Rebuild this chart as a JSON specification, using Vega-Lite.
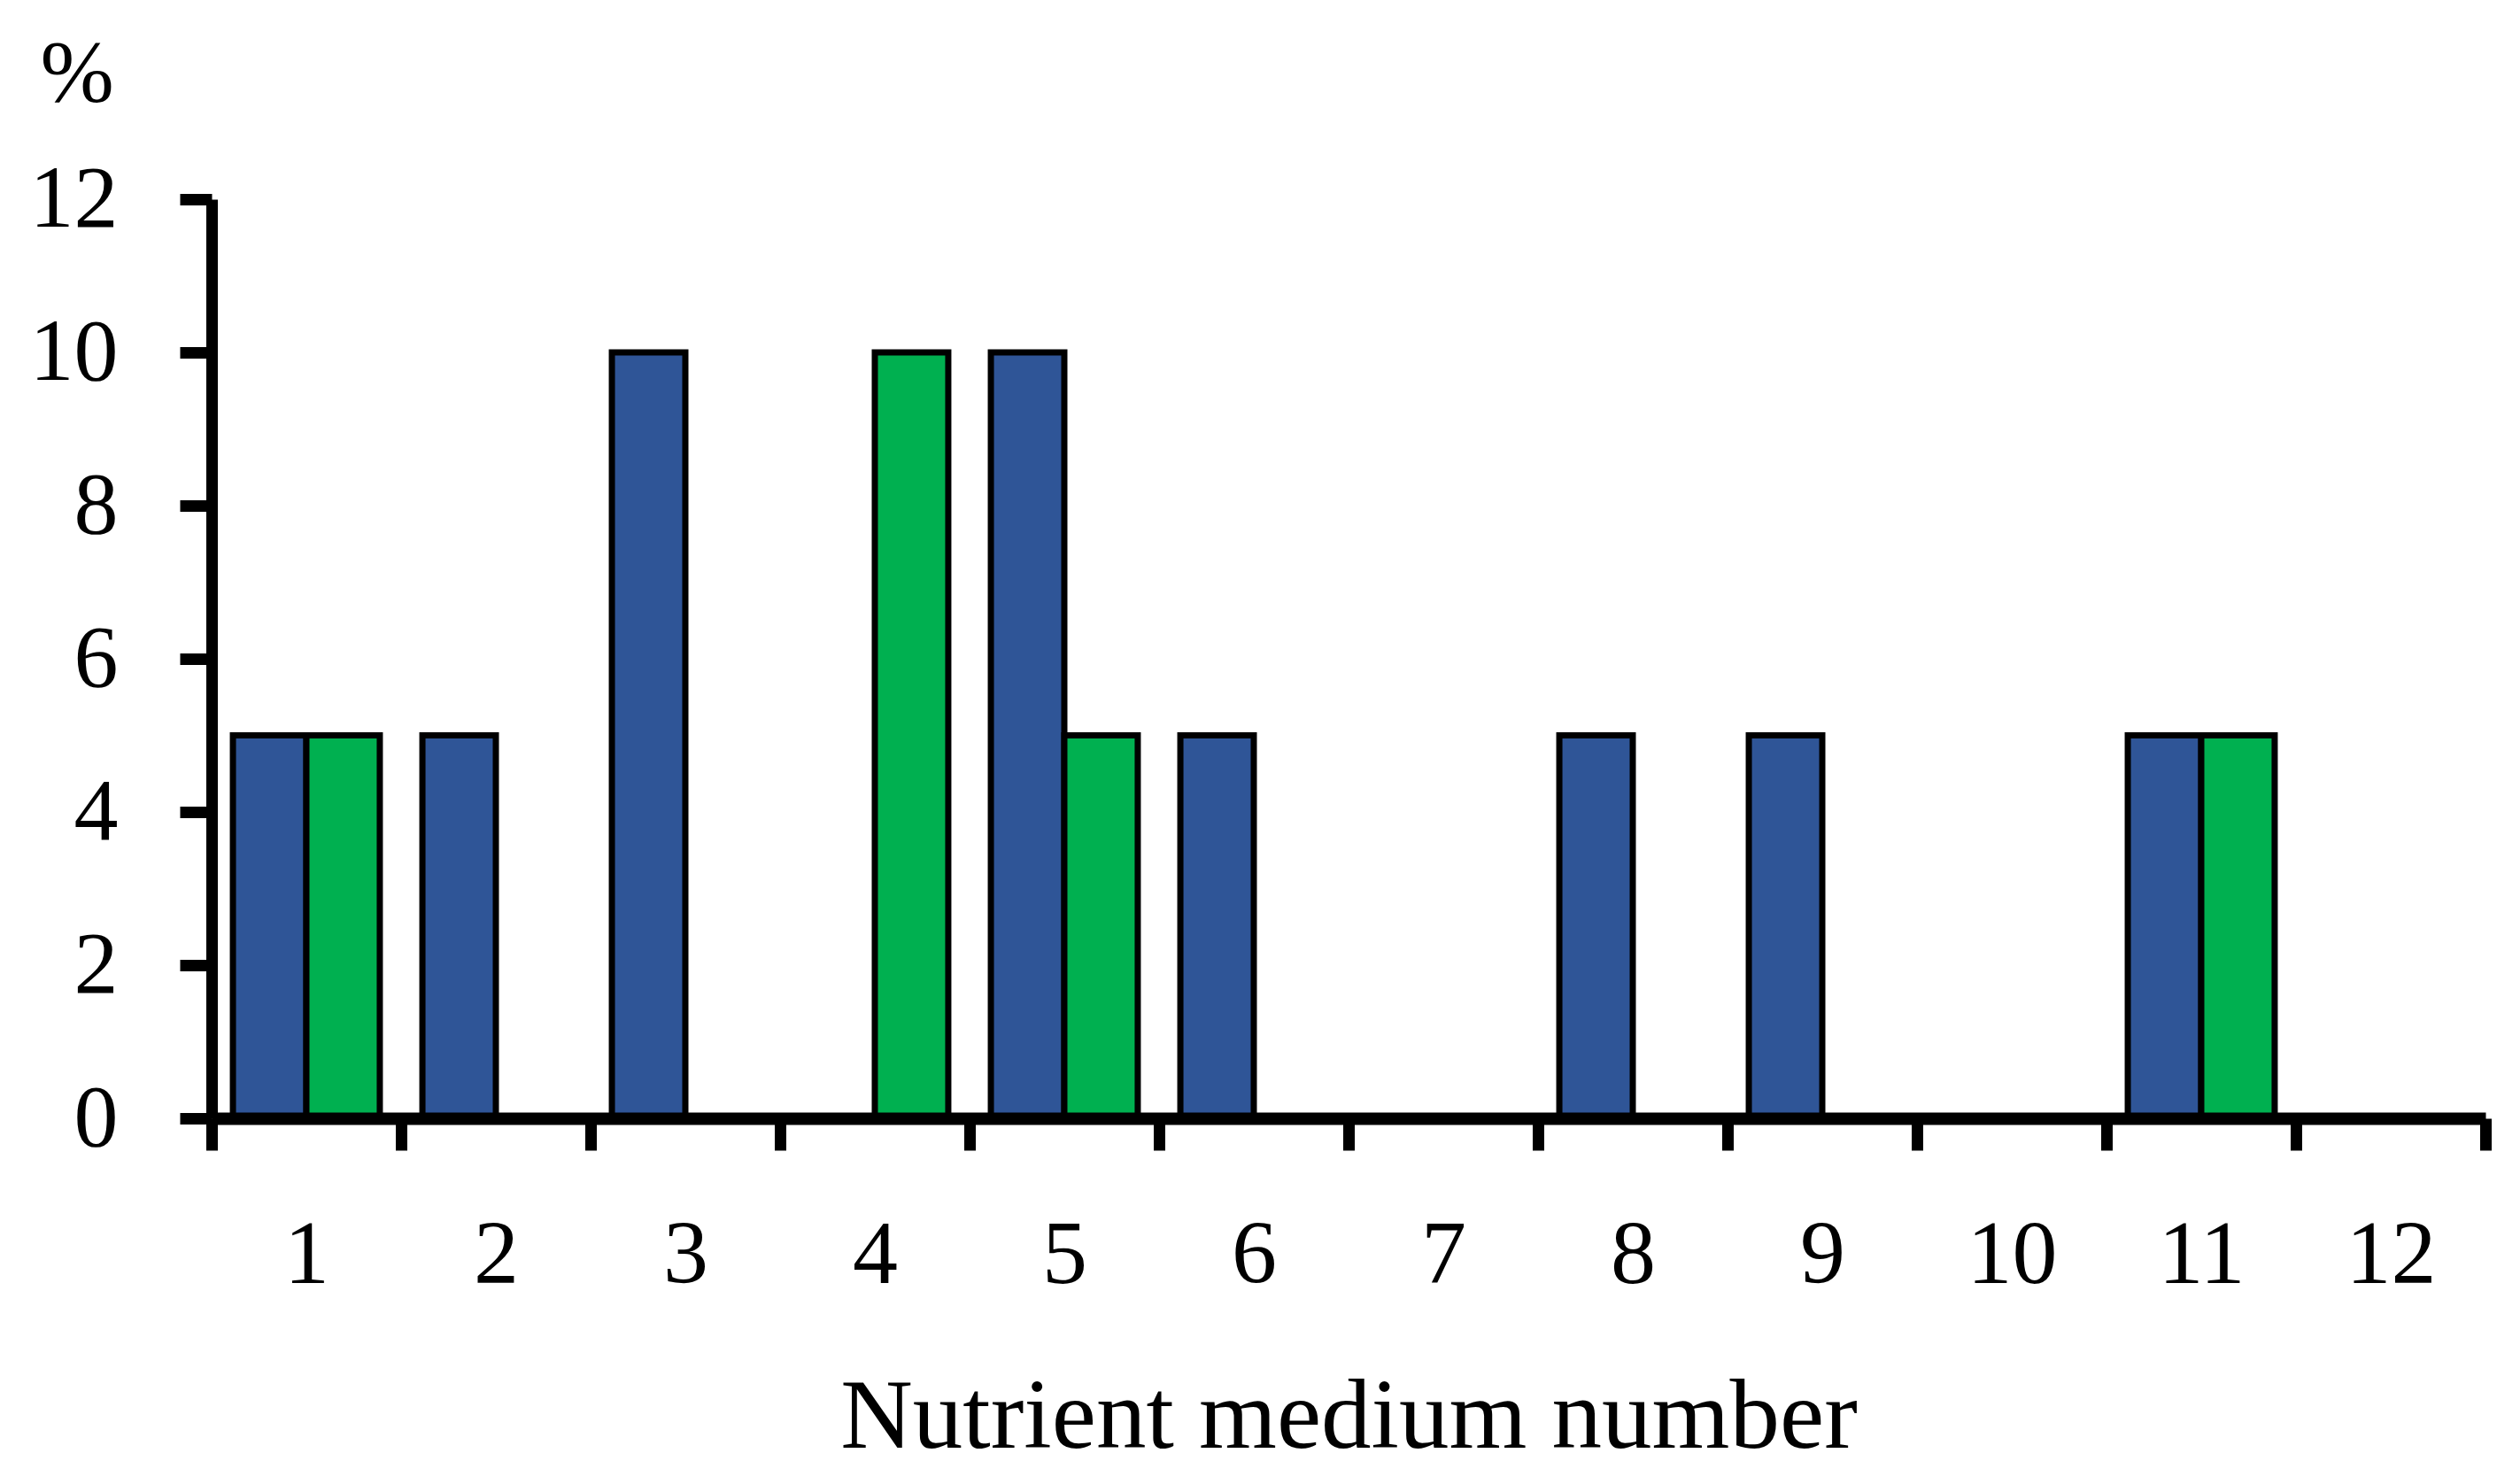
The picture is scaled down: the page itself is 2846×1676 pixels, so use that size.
{
  "$schema": "https://vega.github.io/schema/vega-lite/v6.json",
  "width": 2568,
  "height": 1038,
  "autosize": {"type": "none"},
  "padding": {"left": 239, "top": 225, "right": 39, "bottom": 413},
  "background": "white",
  "config": {"view": {"stroke": null}},
  "data": {
    "values": [
      {"medium": 1, "series": "A", "percent": 5},
      {"medium": 1, "series": "B", "percent": 5},
      {"medium": 2, "series": "A", "percent": 5},
      {"medium": 3, "series": "A", "percent": 10},
      {"medium": 4, "series": "B", "percent": 10},
      {"medium": 5, "series": "A", "percent": 10},
      {"medium": 5, "series": "B", "percent": 5},
      {"medium": 6, "series": "A", "percent": 5},
      {"medium": 8, "series": "A", "percent": 5},
      {"medium": 9, "series": "A", "percent": 5},
      {"medium": 11, "series": "A", "percent": 5},
      {"medium": 11, "series": "B", "percent": 5}
    ]
  },
  "mark": {"type": "bar", "stroke": "black", "strokeWidth": 7},
  "encoding": {
    "x": {
      "field": "medium",
      "type": "ordinal",
      "scale": {"domain": [1, 2, 3, 4, 5, 6, 7, 8, 9, 10, 11, 12], "paddingInner": 0, "paddingOuter": 0},
      "axis": {
        "zindex": 1,
        "labelAngle": 0,
        "tickBand": "extent",
        "grid": false,
        "domainColor": "black",
        "domainWidth": 14,
        "tickColor": "black",
        "tickWidth": 13,
        "tickSize": 36,
        "labelFont": "Liberation Serif",
        "labelFontSize": 102,
        "labelColor": "black",
        "labelBaseline": "alphabetic",
        "labelPadding": 149,
        "title": "Nutrient medium number",
        "titleFont": "Liberation Serif",
        "titleFontSize": 113,
        "titleFontWeight": "normal",
        "titleColor": "black",
        "titleBaseline": "alphabetic",
        "titleY": 371
      }
    },
    "xOffset": {"field": "series", "scale": {"paddingInner": 0, "paddingOuter": 0.29}},
    "y": {
      "field": "percent",
      "type": "quantitative",
      "scale": {"domain": [0, 12]},
      "axis": {
        "zindex": 1,
        "values": [0, 2, 4, 6, 8, 10, 12],
        "grid": false,
        "domainColor": "black",
        "domainWidth": 13,
        "tickColor": "black",
        "tickWidth": 13,
        "tickSize": 36,
        "labelFont": "Liberation Serif",
        "labelFontSize": 100,
        "labelColor": "black",
        "labelPadding": 70,
        "title": "%",
        "titleFont": "Liberation Serif",
        "titleFontSize": 100,
        "titleFontWeight": "normal",
        "titleColor": "black",
        "titleAngle": 0,
        "titleAlign": "left",
        "titleBaseline": "alphabetic",
        "titleX": -194,
        "titleY": -112
      }
    },
    "color": {
      "field": "series",
      "scale": {"domain": ["A", "B"], "range": ["#2F5597", "#00B050"]},
      "legend": null
    }
  }
}
